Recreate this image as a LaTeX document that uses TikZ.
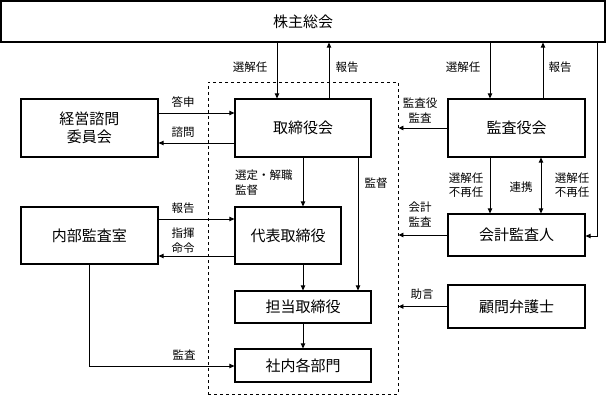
\documentclass[tikz,border=0pt]{standalone}
\usepackage{fontspec}
\setmainfont{Noto Sans CJK JP}
\usetikzlibrary{arrows.meta}
\tikzset{
  box/.style={draw, line width=1.2pt, inner sep=0pt, align=center,
    font=\fontsize{15}{18}\selectfont},
  lbl/.style={inner sep=0pt, align=center, font=\fontsize{11.5}{14.5}\selectfont},
  conn/.style={line width=0.9pt, -{Triangle[length=5pt,width=4.5pt]}},
  dconn/.style={line width=0.9pt, {Triangle[length=5pt,width=4.5pt]}-{Triangle[length=5pt,width=4.5pt]}},
  plain/.style={line width=0.9pt}
}
\begin{document}
\begin{tikzpicture}[x=1pt,y=-1pt]
\useasboundingbox (0,0) rectangle (606,404);
% dashed frame
\node[draw, dashed, line width=0.9pt, minimum width=190pt, minimum height=312pt, inner sep=0pt] (dash) at (303,238) {};
% boxes
\node[box, minimum width=604pt, minimum height=41pt] (top) at (303,21.5) {株主総会};
\node[box, minimum width=137pt, minimum height=58pt] (keiei) at (89.5,128) {経営諮問\\委員会};
\node[box, minimum width=136pt, minimum height=58pt] (tori) at (303,128) {取締役会};
\node[box, minimum width=137pt, minimum height=58pt] (kansa) at (516.5,128) {監査役会};
\node[box, minimum width=137pt, minimum height=57pt] (naibu) at (89.5,235.5) {内部監査室};
\node[box, minimum width=106pt, minimum height=57pt] (daihyo) at (288,235.5) {代表取締役};
\node[box, minimum width=137pt, minimum height=42pt] (kaikei) at (516.5,235) {会計監査人};
\node[box, minimum width=136pt, minimum height=32pt] (tanto) at (303,307) {担当取締役};
\node[box, minimum width=137pt, minimum height=43pt] (komon) at (516.5,306.5) {顧問弁護士};
\node[box, minimum width=136pt, minimum height=33pt] (shanai) at (303,365.5) {社内各部門};
% coordinates
\coordinate (rline) at (597,236);
% top connectors
\draw[conn] (top.south -| 277,0) -- (tori.north -| 277,0);
\draw[conn] (tori.north -| 329,0) -- (top.south -| 329,0);
\draw[conn] (top.south -| 490,0) -- (kansa.north -| 490,0);
\draw[conn] (kansa.north -| 543,0) -- (top.south -| 543,0);
\draw[conn] (top.south -| rline) -- (rline) -- (kaikei.east |- rline);
\node[lbl] (l1) at (250,67) {選解任};
\node[lbl] (l2) at (347,67) {報告};
\node[lbl] (l3) at (463,67) {選解任};
\node[lbl] (l4) at (560,67) {報告};
% keiei
\draw[conn] (keiei.east |- 0,113) -- (tori.west |- 0,113);
\draw[conn] (tori.west |- 0,143) -- (keiei.east |- 0,143);
\node[lbl] (l5) at (183,102) {答申};
\node[lbl] (l6) at (183,132) {諮問};
% tori down
\draw[conn] (tori.south) -- (daihyo.north -| tori.south);
\draw[conn] (tori.south -| 358,0) -- (tanto.north -| 358,0);
\node[lbl, align=left, anchor=west] (l7) at (235,182.5) {選定・解職\\監督};
\node[lbl] (l8) at (376,183) {監督};
% naibu
\draw[conn] (naibu.east |- 0,219) -- (daihyo.west |- 0,219);
\draw[conn] (daihyo.west |- 0,256) -- (naibu.east |- 0,256);
\node[lbl] (l9) at (183,208) {報告};
\node[lbl] (l10) at (183,240.5) {指揮\\命令};
\draw[conn] (daihyo.south -| tori.south) -- (tanto.north);
\draw[conn] (tanto.south) -- (shanai.north);
\draw[conn] (naibu.south) -- (naibu.south |- 0,366) -- (shanai.west |- 0,366);
\node[lbl] (l11) at (184,355) {監査};
% right side
\draw[conn] (kansa.west) -- (kansa.west -| dash.east);
\node[lbl] (l12) at (420,110.5) {監査役\\監査};
\draw[conn] (kansa.south -| 490,0) -- (kaikei.north -| 490,0);
\draw[dconn] (kansa.south -| 541,0) -- (kaikei.north -| 541,0);
\node[lbl] (l13) at (466,185) {選解任\\不再任};
\node[lbl] (l14) at (521,187) {連携};
\node[lbl] (l15) at (572,185) {選解任\\不再任};
\draw[conn] (kaikei.west) -- (kaikei.west -| dash.east);
\node[lbl] (l16) at (420,214.5) {会計\\監査};
\draw[conn] (komon.west) -- (komon.west -| dash.east);
\node[lbl] (l17) at (422,294) {助言};
\end{tikzpicture}
\end{document}
